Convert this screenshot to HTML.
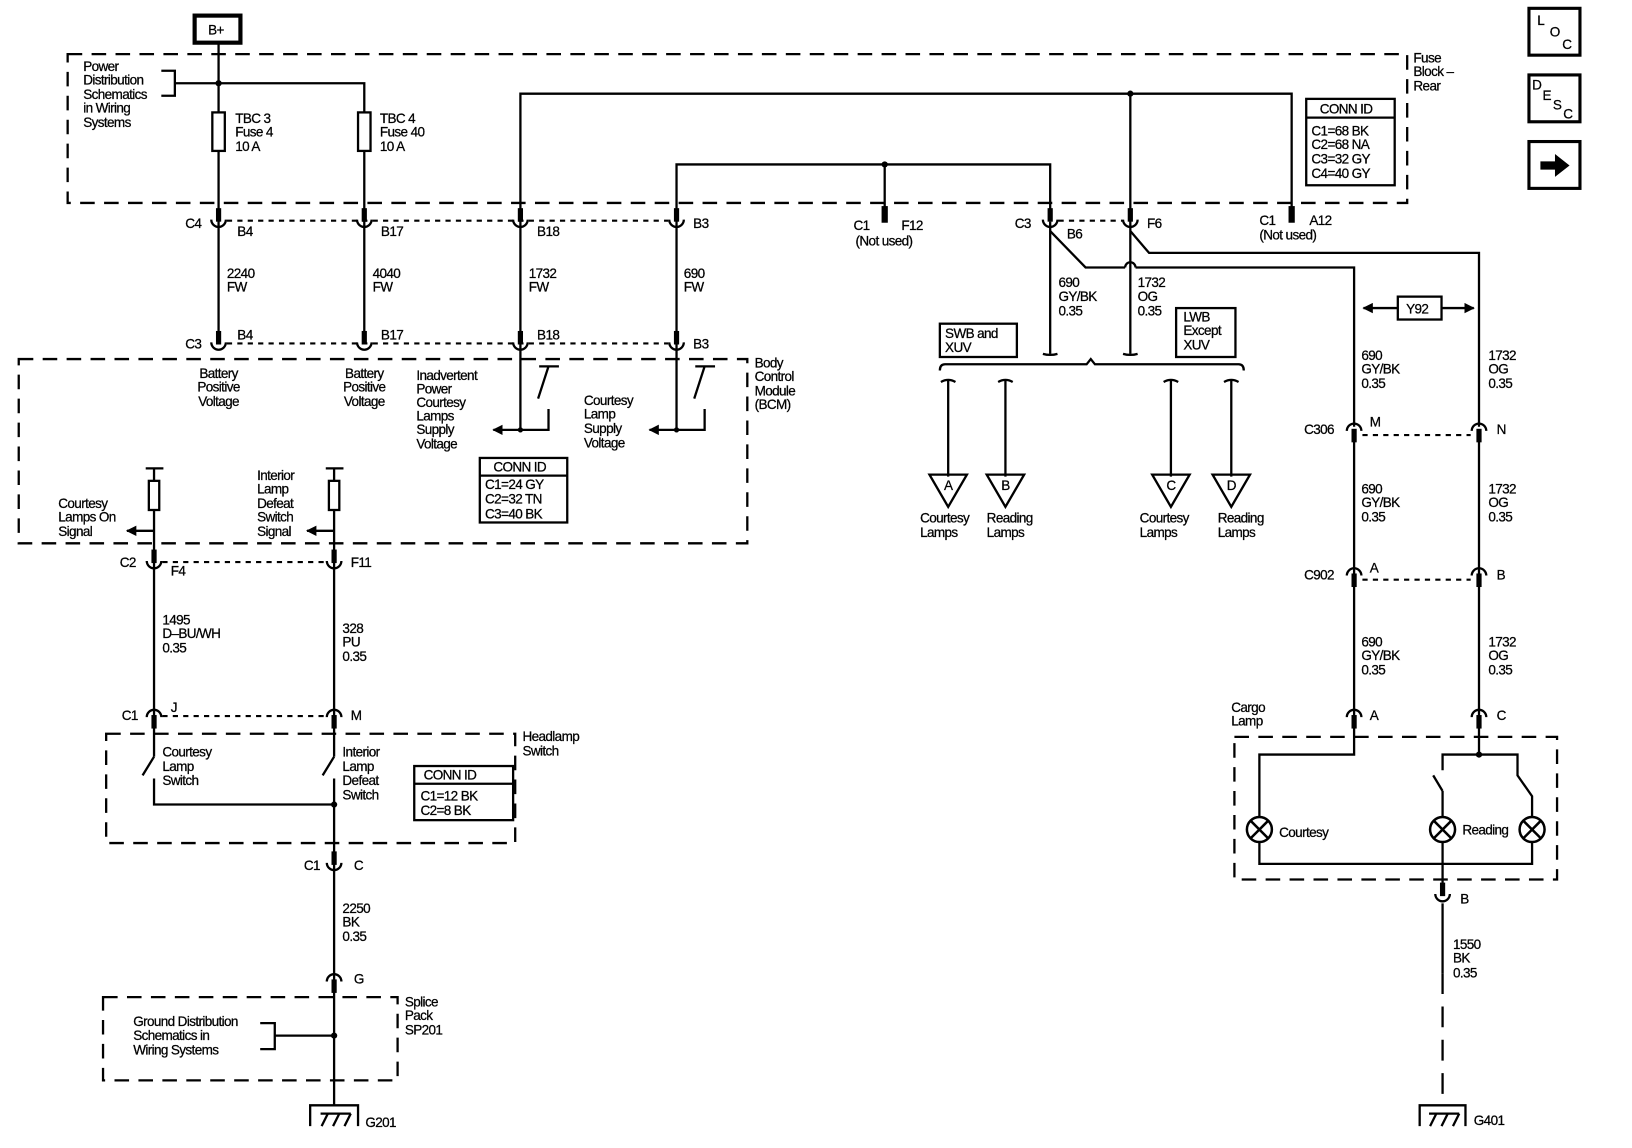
<!DOCTYPE html>
<html><head><meta charset="utf-8"><style>
html,body{margin:0;padding:0;background:#fff;}
svg{display:block}
text{font-family:"Liberation Sans",sans-serif;font-size:13px;fill:#000;letter-spacing:-0.6px;stroke:#000;stroke-width:0.25}
</style></head><body>
<svg width="1632" height="1148" viewBox="0 0 1568 1103" preserveAspectRatio="none" xmlns="http://www.w3.org/2000/svg">
<defs>
<g id="U"><rect x="-2.5" y="-16" width="5" height="13" fill="#000"/><path d="M-7,-5 A7,7 0 0 0 7,-5" fill="none" stroke="#000" stroke-width="2.2"/></g>
<g id="N"><rect x="-2.5" y="3" width="5" height="13" fill="#000"/><path d="M-7,5 A7,7 0 0 1 7,5" fill="none" stroke="#000" stroke-width="2.2"/></g>
<marker id="ar" markerWidth="10" markerHeight="10" refX="9" refY="5" orient="auto" markerUnits="userSpaceOnUse"><path d="M0,0 L10,5 L0,10z" fill="#000"/></marker>
</defs>
<g fill="none" stroke="#000" stroke-width="2.2">
<rect x="65" y="52" width="1287" height="143" stroke-dasharray="14,9"/>
<rect x="18" y="345" width="700" height="177" stroke-dasharray="14,9"/>
<rect x="102" y="705" width="393" height="105" stroke-dasharray="14,9"/>
<rect x="99" y="958" width="283" height="80" stroke-dasharray="14,9"/>
<rect x="1186" y="708" width="310" height="137" stroke-dasharray="14,9"/>
<g stroke-dasharray="5,5" stroke-width="2">
<line x1="218" y1="212" x2="642" y2="212"/>
<line x1="218" y1="330" x2="642" y2="330"/>
<line x1="1017" y1="212" x2="1078" y2="212"/>
<line x1="156" y1="540" x2="313" y2="540"/>
<line x1="156" y1="688" x2="313" y2="688"/>
<line x1="1309" y1="418" x2="1413" y2="418"/>
<line x1="1309" y1="557" x2="1413" y2="557"/>
</g>
<polyline points="210,42 210,330"/>
<polyline points="210,80 350,80 350,330"/>
<polyline points="500,413 500,90 1241,90 1241,205"/>
<polyline points="650,413 650,158 1009,158 1009,213"/>
<line x1="850" y1="158" x2="850" y2="205"/>
<line x1="1086" y1="90" x2="1086" y2="340"/>
<line x1="1009" y1="213" x2="1009" y2="340"/>
<polyline points="1009,222 1043,257 1081,257"/>
<path d="M1081,257 A5,5 0 0 1 1091,257"/>
<polyline points="1091,257 1301,257 1301,410"/>
<polyline points="1086,222 1104,243 1421,243 1421,410"/>
<polyline points="155,68 168,68 168,92 155,92"/>
<line x1="168" y1="80" x2="210" y2="80"/>
<rect x="204" y="108" width="12" height="37" fill="#fff"/>
<rect x="344" y="108" width="12" height="37" fill="#fff"/>
<line x1="518" y1="352" x2="537" y2="352"/><line x1="527" y1="352" x2="517" y2="383"/>
<polyline points="527,393 527,413 500,413"/>
<line x1="500" y1="413" x2="474" y2="413" marker-end="url(#ar)"/>
<line x1="668" y1="352" x2="687" y2="352"/><line x1="677" y1="352" x2="667" y2="383"/>
<polyline points="677,393 677,413 650,413"/>
<line x1="650" y1="413" x2="624" y2="413" marker-end="url(#ar)"/>
<line x1="140" y1="450" x2="157" y2="450"/><line x1="148" y1="450" x2="148" y2="540"/>
<rect x="143" y="462" width="10" height="28" fill="#fff"/>
<line x1="148" y1="510" x2="122" y2="510" marker-end="url(#ar)"/>
<line x1="313" y1="450" x2="330" y2="450"/><line x1="321" y1="450" x2="321" y2="540"/>
<rect x="316" y="462" width="10" height="28" fill="#fff"/>
<line x1="321" y1="510" x2="295" y2="510" marker-end="url(#ar)"/>
<line x1="148" y1="540" x2="148" y2="688"/>
<line x1="321" y1="540" x2="321" y2="688"/>
<line x1="148" y1="695" x2="148" y2="727"/><line x1="148" y1="727" x2="137" y2="745"/>
<polyline points="148,748 148,773 321,773"/>
<line x1="321" y1="695" x2="321" y2="727"/><line x1="321" y1="727" x2="310" y2="745"/>
<line x1="321" y1="748" x2="321" y2="1062"/>
<polyline points="250,983 264,983 264,1008 250,1008"/>
<line x1="264" y1="995" x2="321" y2="995"/>
<polyline points="298,1082 298,1062 344,1062 344,1082"/>
<line x1="309" y1="1082" x2="315" y2="1070"/><line x1="320" y1="1082" x2="326" y2="1070"/><line x1="331" y1="1082" x2="337" y2="1070"/><line x1="308" y1="1070" x2="337" y2="1070"/>
<polyline points="1364,1082 1364,1062 1408,1062 1408,1082"/>
<line x1="1374" y1="1082" x2="1380" y2="1070"/><line x1="1385" y1="1082" x2="1391" y2="1070"/><line x1="1396" y1="1082" x2="1402" y2="1070"/><line x1="1373" y1="1070" x2="1402" y2="1070"/>
<path d="M903,356 Q903,350 908,350 L1044,350 L1048,345 L1052,350 L1190,350 Q1195,350 1195,356"/>
<path d="M1002,340 Q1009,342 1016,340"/><path d="M1079,340 Q1086,342 1093,340"/>
<g>
<path d="M904,367 Q911,363 918,367"/><line x1="911" y1="365" x2="911" y2="458"/>
<path d="M959,367 Q966,363 973,367"/><line x1="966" y1="365" x2="966" y2="458"/>
<path d="M1118,367 Q1125,363 1132,367"/><line x1="1125" y1="365" x2="1125" y2="458"/>
<path d="M1176,367 Q1183,363 1190,367"/><line x1="1183" y1="365" x2="1183" y2="458"/>
<polygon points="893,456 929,456 911,487"/><polygon points="948,456 984,456 966,487"/>
<polygon points="1107,456 1143,456 1125,487"/><polygon points="1165,456 1201,456 1183,487"/>
</g>
<rect x="1343" y="285" width="42" height="22"/>
<line x1="1343" y1="296" x2="1310" y2="296" marker-end="url(#ar)"/>
<line x1="1385" y1="296" x2="1416" y2="296" marker-end="url(#ar)"/>
<line x1="1301" y1="418" x2="1301" y2="688"/>
<line x1="1421" y1="418" x2="1421" y2="688"/>
<polyline points="1301,695 1301,725 1210,725 1210,785"/>
<polyline points="1210,809 1210,830 1472,830 1472,809"/>
<line x1="1421" y1="695" x2="1421" y2="725"/>
<polyline points="1386,740 1386,725 1458,725 1458,745 1472,765 1472,785"/>
<line x1="1377" y1="745" x2="1386" y2="760"/>
<line x1="1386" y1="760" x2="1386" y2="785"/>
<line x1="1386" y1="809" x2="1386" y2="860"/>
<line x1="1386" y1="868" x2="1386" y2="935"/>
<line x1="1386" y1="935" x2="1386" y2="1062" stroke-dasharray="20,12"/>
<g stroke-width="2.4">
<circle cx="1210" cy="797" r="12"/><line x1="1202" y1="789" x2="1218" y2="805"/><line x1="1218" y1="789" x2="1202" y2="805"/>
<circle cx="1386" cy="797" r="12"/><line x1="1378" y1="789" x2="1394" y2="805"/><line x1="1394" y1="789" x2="1378" y2="805"/>
<circle cx="1472" cy="797" r="12"/><line x1="1464" y1="789" x2="1480" y2="805"/><line x1="1480" y1="789" x2="1464" y2="805"/>
</g>
<rect x="1255" y="95" width="85" height="83"/><line x1="1255" y1="113" x2="1340" y2="113"/>
<rect x="461" y="440" width="84" height="62"/><line x1="461" y1="457" x2="545" y2="457"/>
<rect x="398" y="736" width="95" height="52"/><line x1="398" y1="753" x2="493" y2="753"/>
<rect x="903" y="311" width="74" height="32"/>
<rect x="1130" y="296" width="57" height="47"/>
<rect x="1469" y="8" width="49" height="45" stroke-width="3"/>
<rect x="1469" y="72" width="49" height="45" stroke-width="3"/>
<rect x="1469" y="136" width="49" height="45" stroke-width="3"/>
<rect x="187" y="15" width="44" height="26" stroke-width="4"/>
</g>
<path d="M1480,155 L1494,155 L1494,148 L1508,159 L1494,170 L1494,163 L1480,163z" fill="#000"/>
<g fill="#000">
<circle cx="210" cy="80" r="3"/><circle cx="1086" cy="90" r="3"/><circle cx="850" cy="158" r="3"/>
<circle cx="321" cy="773" r="3"/><circle cx="321" cy="995" r="3"/><circle cx="1421" cy="725" r="3"/>
<circle cx="500" cy="413" r="2.5"/><circle cx="650" cy="413" r="2.5"/>
<rect x="847" y="198" width="6" height="16"/><rect x="1238" y="198" width="6" height="16"/>
</g>
<use href="#U" x="210" y="216"/><use href="#U" x="350" y="216"/><use href="#U" x="500" y="216"/><use href="#U" x="650" y="216"/>
<use href="#U" x="1009" y="216"/><use href="#U" x="1086" y="216"/>
<use href="#U" x="210" y="334"/><use href="#U" x="350" y="334"/><use href="#U" x="500" y="334"/><use href="#U" x="650" y="334"/>
<use href="#U" x="148" y="544"/><use href="#U" x="321" y="544"/>
<use href="#N" x="148" y="684"/><use href="#N" x="321" y="684"/>
<use href="#U" x="321" y="834"/><use href="#N" x="321" y="938"/>
<use href="#N" x="1301" y="409"/><use href="#N" x="1421" y="409"/>
<use href="#N" x="1301" y="548"/><use href="#N" x="1421" y="548"/>
<use href="#N" x="1301" y="684"/><use href="#N" x="1421" y="684"/>
<use href="#U" x="1386" y="864"/>
<text x="200" y="33" font-size="14">B+</text>
<text x="80" y="68">Power</text><text x="80" y="81">Distribution</text><text x="80" y="95">Schematics</text><text x="80" y="108">in Wiring</text><text x="80" y="122">Systems</text>
<text x="226" y="118">TBC 3</text><text x="226" y="131">Fuse 4</text><text x="226" y="145">10 A</text>
<text x="365" y="118">TBC 4</text><text x="365" y="131">Fuse 40</text><text x="365" y="145">10 A</text>
<text x="1358" y="60">Fuse</text><text x="1358" y="73">Block –</text><text x="1358" y="87">Rear</text>
<text x="1268" y="109">CONN ID</text><text x="1260" y="130">C1=68 BK</text><text x="1260" y="143">C2=68 NA</text><text x="1260" y="157">C3=32 GY</text><text x="1260" y="171">C4=40 GY</text>
<text x="1477" y="24" font-size="14">L</text><text x="1489" y="35" font-size="14">O</text><text x="1501" y="47" font-size="14">C</text>
<text x="1472" y="86" font-size="13">D</text><text x="1482" y="96" font-size="13">E</text><text x="1492" y="105" font-size="13">S</text><text x="1502" y="114" font-size="13">C</text>
<text x="178" y="219">C4</text><text x="228" y="227">B4</text><text x="366" y="227">B17</text><text x="516" y="227">B18</text><text x="666" y="219">B3</text>
<text x="820" y="221">C1</text><text x="866" y="221">F12</text><text x="822" y="236">(Not used)</text>
<text x="975" y="219">C3</text><text x="1025" y="229">B6</text><text x="1102" y="219">F6</text>
<text x="1210" y="216">C1</text><text x="1258" y="216">A12</text><text x="1210" y="230">(Not used)</text>
<text x="218" y="267">2240</text><text x="218" y="280">FW</text>
<text x="358" y="267">4040</text><text x="358" y="280">FW</text>
<text x="508" y="267">1732</text><text x="508" y="280">FW</text>
<text x="657" y="267">690</text><text x="657" y="280">FW</text>
<text x="1017" y="276">690</text><text x="1017" y="289">GY/BK</text><text x="1017" y="303">0.35</text>
<text x="1093" y="276">1732</text><text x="1093" y="289">OG</text><text x="1093" y="303">0.35</text>
<text x="908" y="325">SWB and</text><text x="908" y="338">XUV</text>
<text x="1137" y="309">LWB</text><text x="1137" y="322">Except</text><text x="1137" y="336">XUV</text>
<text x="1351" y="301">Y92</text>
<text x="178" y="335">C3</text><text x="228" y="326">B4</text><text x="366" y="326">B17</text><text x="516" y="326">B18</text><text x="666" y="335">B3</text>
<text x="210" y="363" text-anchor="middle">Battery</text><text x="210" y="376" text-anchor="middle">Positive</text><text x="210" y="390" text-anchor="middle">Voltage</text>
<text x="350" y="363" text-anchor="middle">Battery</text><text x="350" y="376" text-anchor="middle">Positive</text><text x="350" y="390" text-anchor="middle">Voltage</text>
<text x="400" y="365">Inadvertent</text><text x="400" y="378">Power</text><text x="400" y="391">Courtesy</text><text x="400" y="404">Lamps</text><text x="400" y="417">Supply</text><text x="400" y="431">Voltage</text>
<text x="561" y="389">Courtesy</text><text x="561" y="402">Lamp</text><text x="561" y="416">Supply</text><text x="561" y="430">Voltage</text>
<text x="725" y="353">Body</text><text x="725" y="366">Control</text><text x="725" y="380">Module</text><text x="725" y="393">(BCM)</text>
<text x="474" y="453">CONN ID</text><text x="466" y="470">C1=24 GY</text><text x="466" y="484">C2=32 TN</text><text x="466" y="498">C3=40 BK</text>
<text x="56" y="488">Courtesy</text><text x="56" y="501">Lamps On</text><text x="56" y="515">Signal</text>
<text x="247" y="461">Interior</text><text x="247" y="474">Lamp</text><text x="247" y="488">Defeat</text><text x="247" y="501">Switch</text><text x="247" y="515">Signal</text>
<text x="911" y="471" text-anchor="middle">A</text><text x="966" y="471" text-anchor="middle">B</text><text x="1125" y="471" text-anchor="middle">C</text><text x="1183" y="471" text-anchor="middle">D</text>
<text x="884" y="502">Courtesy</text><text x="884" y="516">Lamps</text>
<text x="948" y="502">Reading</text><text x="948" y="516">Lamps</text>
<text x="1095" y="502">Courtesy</text><text x="1095" y="516">Lamps</text>
<text x="1170" y="502">Reading</text><text x="1170" y="516">Lamps</text>
<text x="1308" y="346">690</text><text x="1308" y="359">GY/BK</text><text x="1308" y="373">0.35</text>
<text x="1430" y="346">1732</text><text x="1430" y="359">OG</text><text x="1430" y="373">0.35</text>
<text x="1253" y="417">C306</text><text x="1316" y="410">M</text><text x="1438" y="417">N</text>
<text x="1308" y="474">690</text><text x="1308" y="487">GY/BK</text><text x="1308" y="501">0.35</text>
<text x="1430" y="474">1732</text><text x="1430" y="487">OG</text><text x="1430" y="501">0.35</text>
<text x="1253" y="557">C902</text><text x="1316" y="550">A</text><text x="1438" y="557">B</text>
<text x="1308" y="621">690</text><text x="1308" y="634">GY/BK</text><text x="1308" y="648">0.35</text>
<text x="1430" y="621">1732</text><text x="1430" y="634">OG</text><text x="1430" y="648">0.35</text>
<text x="1183" y="684">Cargo</text><text x="1183" y="697">Lamp</text>
<text x="1316" y="692">A</text><text x="1438" y="692">C</text>
<text x="1229" y="804">Courtesy</text><text x="1405" y="802">Reading</text>
<text x="1403" y="868">B</text>
<text x="1396" y="912">1550</text><text x="1396" y="925">BK</text><text x="1396" y="939">0.35</text>
<text x="1416" y="1081">G401</text>
<text x="115" y="545">C2</text><text x="164" y="553">F4</text><text x="337" y="545">F11</text>
<text x="156" y="600">1495</text><text x="156" y="613">D–BU/WH</text><text x="156" y="627">0.35</text>
<text x="329" y="608">328</text><text x="329" y="621">PU</text><text x="329" y="635">0.35</text>
<text x="117" y="692">C1</text><text x="164" y="684">J</text><text x="337" y="692">M</text>
<text x="502" y="712">Headlamp</text><text x="502" y="726">Switch</text>
<text x="156" y="727">Courtesy</text><text x="156" y="741">Lamp</text><text x="156" y="754">Switch</text>
<text x="329" y="727">Interior</text><text x="329" y="741">Lamp</text><text x="329" y="754">Defeat</text><text x="329" y="768">Switch</text>
<text x="407" y="749">CONN ID</text><text x="404" y="769">C1=12 BK</text><text x="404" y="783">C2=8 BK</text>
<text x="292" y="836">C1</text><text x="340" y="836">C</text>
<text x="329" y="877">2250</text><text x="329" y="890">BK</text><text x="329" y="904">0.35</text>
<text x="340" y="945">G</text>
<text x="389" y="967">Splice</text><text x="389" y="980">Pack</text><text x="389" y="994">SP201</text>
<text x="128" y="986">Ground Distribution</text><text x="128" y="999">Schematics in</text><text x="128" y="1013">Wiring Systems</text>
<text x="351" y="1083">G201</text>
</svg>
</body></html>
